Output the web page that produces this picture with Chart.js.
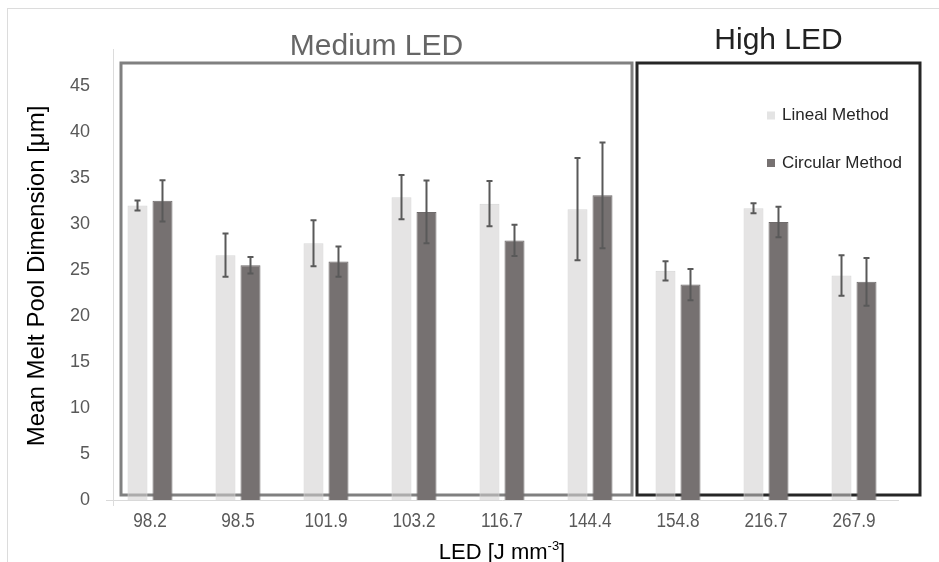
<!DOCTYPE html>
<html>
<head>
<meta charset="utf-8">
<script src="https://cdn.jsdelivr.net/npm/chart.js@4.4.1/dist/chart.umd.min.js"></script>
<style>
  body { margin: 0; background: #fff; }
  #wrap { position: relative; width: 939px; height: 562px; overflow: hidden; }
  #frame { position: absolute; left: 7px; top: 8px; right: -2px; bottom: -2px; border: 1px solid #dcdcdc; }
</style>
</head>
<body>
<div id="wrap">
  <div id="frame"></div>
  <canvas id="chart" width="939" height="562" style="position:absolute;left:0;top:0;"></canvas>
</div>
<script>
// data
const categories = ['98.2', '98.5', '101.9', '103.2', '116.7', '144.4', '154.8', '216.7', '267.9'];
const linealMean = [32.0, 26.6, 27.9, 32.9, 32.2, 31.6, 24.9, 31.7, 24.4];
const linealErr = [0.55, 2.35, 2.5, 2.4, 2.45, 5.55, 1.05, 0.55, 2.2];
const circularMean = [32.5, 25.5, 25.9, 31.3, 28.2, 33.1, 23.4, 30.2, 23.7];
const circularErr = [2.25, 0.9, 1.65, 3.4, 1.7, 5.75, 1.7, 1.65, 2.6];
const yTicks = [0, 5, 10, 15, 20, 25, 30, 35, 40, 45];

const sans = "'Liberation Sans', Arial, sans-serif";

// groups boxed on the chart: first/last category index
const groups = [
    { name: 'Medium LED', from: 0, to: 5, color: '#808080', titleColor: '#666666', base: 55, padL: 29, padR: 42 },
    { name: 'High LED', from: 6, to: 8, color: '#262626', titleColor: '#222222', base: 49, padL: 41, padR: 66 }
];

const decor = {
    id: 'decor',
    beforeDatasetsDraw(chart) {
        const { ctx, chartArea: a, scales: { x, y } } = chart;
        ctx.save();
        // faint y axis line
        ctx.strokeStyle = '#dcdcdc';
        ctx.lineWidth = 1;
        ctx.beginPath();
        ctx.moveTo(a.left + 7.5, a.top);
        ctx.lineTo(a.left + 7.5, a.bottom + 6);
        ctx.stroke();

        // group boxes
        ctx.lineWidth = 3;
        groups.forEach(g => {
            const l = x.getPixelForValue(g.from) - g.padL;
            const r = x.getPixelForValue(g.to) + g.padR;
            const t = a.top + 14;
            const b = y.getPixelForValue(0) - 5;
            ctx.strokeStyle = g.color;
            ctx.strokeRect(l, t, r - l, b - t);
            ctx.fillStyle = g.titleColor;
            ctx.font = '30px ' + sans;
            ctx.textAlign = 'center';
            ctx.textBaseline = 'alphabetic';
            ctx.fillText(g.name, (l + r) / 2, g.base);
        });

        // category labels, slightly condensed like the original
        ctx.fillStyle = '#595959';
        ctx.font = '20px ' + sans;
        ctx.textAlign = 'center';
        categories.forEach((c, i) => {
            ctx.save();
            ctx.translate(x.getPixelForValue(i), 527);
            ctx.scale(0.86, 1);
            ctx.fillText(c, 0, 0);
            ctx.restore();
        });
        ctx.restore();
    },
    afterDatasetsDraw(chart) {
        const { ctx, scales: { y } } = chart;
        ctx.save();
        ctx.strokeStyle = '#595959';
        ctx.lineWidth = 2;
        chart.data.datasets.forEach((ds, i) => {
            chart.getDatasetMeta(i).data.forEach((bar, j) => {
                const top = y.getPixelForValue(ds.data[j] + ds.errors[j]);
                const bot = y.getPixelForValue(ds.data[j] - ds.errors[j]);
                ctx.beginPath();
                ctx.moveTo(bar.x, top); ctx.lineTo(bar.x, bot);
                ctx.moveTo(bar.x - 3, top); ctx.lineTo(bar.x + 3, top);
                ctx.moveTo(bar.x - 3, bot); ctx.lineTo(bar.x + 3, bot);
                ctx.stroke();
            });
        });

        // legend inside the high LED box
        const lx = 767, ly = [115.5, 163];
        chart.data.datasets.forEach((ds, i) => {
            ctx.fillStyle = ds.legendColor;
            ctx.fillRect(lx, ly[i] - 4, 8, 8);
            ctx.fillStyle = '#262626';
            ctx.font = '17px ' + sans;
            ctx.textAlign = 'left';
            ctx.textBaseline = 'middle';
            ctx.fillText(ds.label, lx + 15, ly[i]);
        });

        // axis titles
        ctx.fillStyle = '#000';
        ctx.save();
        ctx.translate(37, 276);
        ctx.rotate(-Math.PI / 2);
        ctx.font = '24px ' + sans;
        ctx.textAlign = 'center';
        ctx.textBaseline = 'middle';
        ctx.fillText('Mean Melt Pool Dimension [μm]', 0, 0);
        ctx.restore();

        ctx.font = '22px ' + sans;
        ctx.textBaseline = 'alphabetic';
        ctx.textAlign = 'left';
        const main = 'LED [J mm', sup = '-3', end = ']';
        const w1 = ctx.measureText(main).width;
        ctx.font = '13px ' + sans;
        const w2 = ctx.measureText(sup).width;
        ctx.font = '22px ' + sans;
        const w3 = ctx.measureText(end).width;
        let sx = 502 - (w1 + w2 + w3) / 2;
        ctx.fillText(main, sx, 559);
        ctx.font = '13px ' + sans;
        ctx.fillText(sup, sx + w1, 550);
        ctx.font = '22px ' + sans;
        ctx.fillText(end, sx + w1 + w2, 559);
        ctx.restore();
    }
};

new Chart(document.getElementById('chart'), {
    type: 'bar',
    data: {
        labels: categories,
        datasets: [
            {
                label: 'Lineal Method',
                data: linealMean,
                errors: linealErr,
                backgroundColor: 'rgba(208, 206, 206, 0.55)',
                borderColor: '#d9d9d9',
                legendColor: '#e4e4e4',
                borderWidth: 1
            },
            {
                label: 'Circular Method',
                data: circularMean,
                errors: circularErr,
                backgroundColor: '#767171',
                borderColor: '#6f6b6b',
                legendColor: '#767171',
                borderWidth: 1
            }
        ]
    },
    options: {
        responsive: false,
        animation: false,
        layout: { padding: { left: 0, right: 41, top: 49, bottom: 0 } },
        datasets: { bar: { categoryPercentage: 0.568, barPercentage: 0.8 } },
        plugins: { legend: { display: false }, tooltip: { enabled: false } },
        scales: {
            x: {
                grid: { display: false, drawTicks: false },
                border: { display: true, color: '#d9d9d9', width: 1 },
                ticks: { display: false },
                afterFit(s) { s.height = 62; }
            },
            y: {
                min: 0,
                max: 49,
                grid: { display: false, drawTicks: false },
                border: { display: false },
                ticks: { stepSize: 5, color: '#595959', font: { family: sans, size: 18 }, padding: 16 },
                afterBuildTicks(s) { s.ticks = yTicks.map(v => ({ value: v })); },
                afterFit(s) { s.width = 106; }
            }
        }
    },
    plugins: [decor]
});
</script>
</body>
</html>
